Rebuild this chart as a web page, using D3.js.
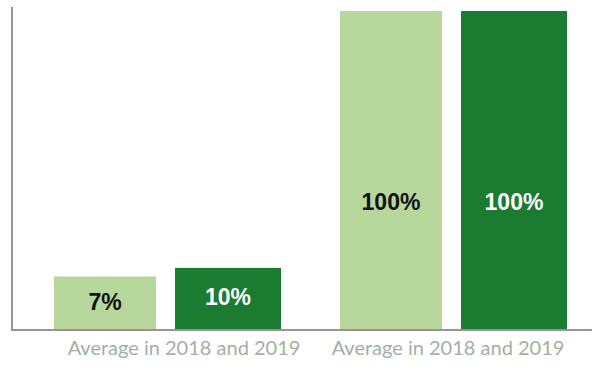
<!DOCTYPE html>
<html><head><meta charset="utf-8">
<script src="https://cdn.jsdelivr.net/npm/d3@7/dist/d3.min.js"></script>
<style>html,body{margin:0;padding:0;background:#fff;}svg{display:block;}</style>
</head><body>
<svg id="chart" width="604" height="383"></svg>
<script>
// data
const groups = ["Group A", "Group B"];
const groupLabels = ["Average in 2018 and 2019", "Average in 2018 and 2019"];
const series = ["s1", "s2"];
const valuesS1 = [7, 100];
const valuesS2 = [10, 100];
const valueLabelsS1 = ["7%", "100%"];
const valueLabelsS2 = ["10%", "100%"];
const seriesColors = ["#b7d79d", "#1b7b31"];
const seriesTextColors = ["#111111", "#ffffff"];

const svg = d3.select("#chart");
const baseY = 329;
const y = d3.scaleLinear().domain([-11.4, 101.4]).range([baseY, 7]);
const x0 = d3.scaleBand().domain(groups).range([24.5, 596.5]).padding(0);
const x1 = d3.scaleBand().domain(series).range([29.5, 256.5]).paddingInner(19/123).paddingOuter(0);
const xLab = d3.scaleBand().domain(groups).range([52, 580]);

const rows = [];
groups.forEach((g, i) => {
  rows.push({g, s: "s1", si: 0, v: valuesS1[i], t: valueLabelsS1[i]});
  rows.push({g, s: "s2", si: 1, v: valuesS2[i], t: valueLabelsS2[i]});
});
const bx = d => x0(d.g) + x1(d.s) + (d.si === 0 ? 0 : -2);
const bw = d => x1.bandwidth() + (d.si === 0 ? -2 : 2);

svg.selectAll("rect.bar").data(rows).enter().append("rect")
  .attr("class", "bar")
  .attr("x", bx)
  .attr("y", d => y(d.v))
  .attr("width", bw)
  .attr("height", d => baseY - y(d.v))
  .attr("fill", d => seriesColors[d.si]);

svg.selectAll("text.val").data(rows).enter().append("text")
  .attr("class", "val")
  .attr("x", d => bx(d) + bw(d) / 2)
  .attr("y", d => {
    const top = y(d.v), h = baseY - top;
    return top + h * (h > 200 ? 0.6 : 0.48) + 8.2;
  })
  .attr("text-anchor", "middle")
  .attr("font-family", "'Liberation Sans', Arial, sans-serif")
  .attr("font-weight", "bold")
  .attr("font-size", "23px")
  .attr("fill", d => seriesTextColors[d.si])
  .text(d => d.t);

// axes lines
svg.append("line").attr("x1", 12).attr("x2", 12).attr("y1", y(101.4)).attr("y2", 331)
  .attr("stroke", "#959595").attr("stroke-width", 2);
svg.append("line").attr("x1", 11).attr("x2", 592).attr("y1", 330).attr("y2", 330)
  .attr("stroke", "#959595").attr("stroke-width", 2);

// x labels
svg.selectAll("text.xl").data(groups).enter().append("text")
  .attr("class", "xl")
  .attr("x", g => xLab(g) + xLab.bandwidth() / 2)
  .attr("y", 355)
  .attr("text-anchor", "middle")
  .attr("font-family", "Lato, 'Open Sans', sans-serif")
  .attr("font-size", "20px")
  .attr("fill", "#a1b1a1")
  .text((g, i) => groupLabels[i]);
</script>
</body></html>
